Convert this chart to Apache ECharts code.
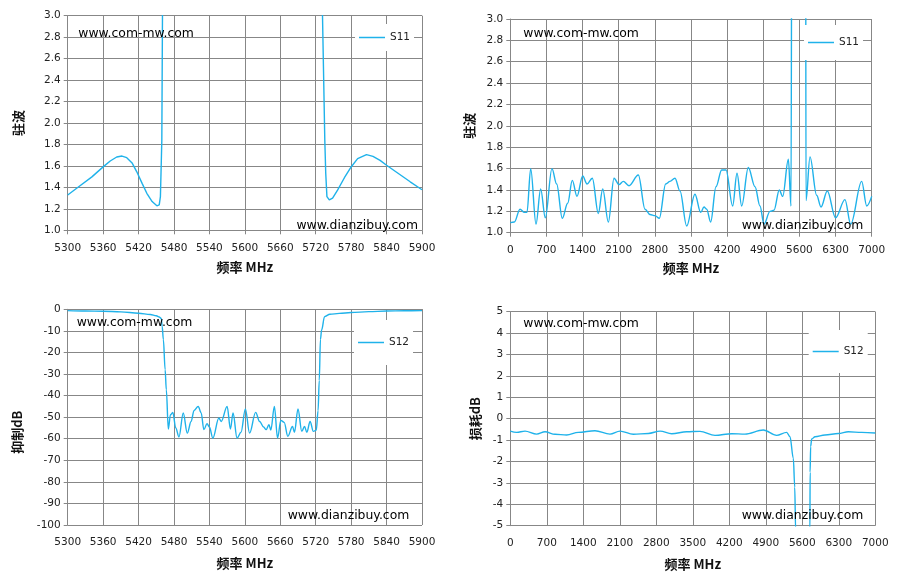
<!DOCTYPE html>
<html>
<head>
<meta charset="utf-8">
<script src="https://cdn.jsdelivr.net/npm/echarts@6/dist/echarts.min.js"></script>
<style>
html, body { margin: 0; padding: 0; background: #fff; }
#chart { width: 899px; height: 580px; }
</style>
</head>
<body>
<div id="chart"></div>
<script>
// S11 驻波 5300-5900 MHz
var f1 = [5300, 5318.6, 5341, 5360, 5372, 5383, 5392, 5400, 5409, 5417, 5426, 5434, 5443, 5451, 5455, 5457, 5458, 5459.4, 5460.5, 5462, 5600, 5729, 5731.5, 5735.4, 5737, 5739, 5743, 5748.6, 5757, 5768.6, 5780, 5791, 5806, 5817, 5829, 5840, 5860, 5880, 5900];
var v1 = [1.329, 1.406, 1.498, 1.591, 1.646, 1.683, 1.692, 1.677, 1.628, 1.545, 1.437, 1.345, 1.268, 1.228, 1.237, 1.314, 1.53, 1.84, 3.0, 8, 8, 8, 3.0, 1.84, 1.53, 1.314, 1.283, 1.30, 1.375, 1.49, 1.59, 1.668, 1.705, 1.689, 1.652, 1.606, 1.529, 1.452, 1.378];

// S11 驻波 0-7000 MHz
var f2 = [0, 78, 188, 272, 323, 395, 498, 588, 678, 807, 898, 1007, 1111, 1201, 1292, 1402, 1486, 1589, 1705, 1790, 1899, 2009, 2105, 2189, 2299, 2480, 2610, 2706, 2803, 2886, 3010, 3093, 3190, 3287, 3416, 3577, 3688, 3752, 3804, 3881, 3984, 4094, 4178, 4307, 4391, 4482, 4610, 4740, 4836, 4914, 5030, 5107, 5210, 5276, 5386, 5437, 5456, 5470, 5700, 5720, 5727, 5805, 5934, 6018, 6140, 6300, 6482, 6593, 6806, 6903, 7000];
var v2 = [1.094, 1.10, 1.22, 1.19, 1.19, 1.60, 1.08, 1.41, 1.14, 1.60, 1.456, 1.135, 1.275, 1.49, 1.34, 1.53, 1.456, 1.51, 1.18, 1.41, 1.10, 1.51, 1.45, 1.48, 1.44, 1.54, 1.22, 1.17, 1.16, 1.135, 1.456, 1.48, 1.51, 1.39, 1.063, 1.36, 1.19, 1.24, 1.22, 1.10, 1.43, 1.587, 1.587, 1.25, 1.556, 1.25, 1.61, 1.43, 1.25, 1.08, 1.20, 1.21, 1.40, 1.34, 1.687, 1.25, 5, 8, 8, 5, 1.30, 1.71, 1.35, 1.24, 1.39, 1.14, 1.31, 1.08, 1.48, 1.25, 1.34];

// S12 抑制 5300-5900 MHz
var f3 = [5300, 5330, 5360, 5390, 5420, 5440, 5450, 5455, 5458.5, 5460, 5462, 5465, 5467, 5470.4, 5474, 5478, 5483, 5488.4, 5495.7, 5502.5, 5509, 5514, 5521, 5526, 5530.6, 5536, 5540, 5545.8, 5556, 5560, 5570, 5575.6, 5580, 5586.8, 5593.5, 5600.9, 5608, 5618.3, 5625, 5631.8, 5636, 5640.8, 5644, 5650, 5655.4, 5661, 5666.6, 5672.8, 5680.7, 5684, 5690, 5696.4, 5701, 5705, 5710.5, 5716, 5721, 5724, 5726, 5728, 5730, 5735, 5744, 5760, 5780, 5810, 5840, 5870, 5900];
var v3 = [-0.6, -0.8, -0.9, -1.2, -1.8, -2.4, -3, -3.6, -4.2, -8, -14, -28, -37.3, -55.5, -48.9, -47.8, -55, -59.2, -48.1, -57.4, -52, -46.9, -45, -48, -55.8, -53, -54.6, -59.7, -50.4, -52, -45, -55.5, -48.1, -59.7, -57, -46.2, -57.4, -47.8, -52, -54.6, -55.8, -53.5, -56, -45, -59.7, -51.5, -52.4, -58.9, -54.3, -57, -46.2, -56.6, -54.3, -57, -52, -56.6, -56, -47, -33, -14, -9.6, -3.4, -2.3, -1.9, -1.5, -1.1, -0.8, -0.7, -0.6];

// S12 损耗 0-7000 MHz
var f4 = [0, 122, 282, 506, 666, 858, 1081, 1305, 1624, 1912, 2104, 2360, 2648, 2872, 3096, 3383, 3638, 3926, 4246, 4500, 4852, 5108, 5300, 5364, 5428, 5455, 5472, 5490, 5730, 5746, 5750, 5760, 5780, 5844, 6035, 6291, 6483, 6739, 7000];
var v4 = [-0.58, -0.64, -0.58, -0.72, -0.61, -0.73, -0.76, -0.64, -0.56, -0.72, -0.58, -0.73, -0.69, -0.58, -0.70, -0.61, -0.59, -0.78, -0.70, -0.72, -0.53, -0.78, -0.64, -0.84, -1.85, -3.2, -5.2, -20, -20, -5.2, -2.5, -1.3, -0.95, -0.84, -0.76, -0.69, -0.61, -0.64, -0.67];

var xTicksNarrow = [5300, 5900, 60];
var xTicksWide = [0, 7000, 700];

var gridColor = '#878787';
var lineColor = '#1fb2ea';
var tickFont = { fontFamily: 'DejaVu Sans', fontSize: 10.5, color: '#222' };
var nameFont = { fontFamily: 'Noto Sans CJK SC', fontSize: 13, fontWeight: 'bold', color: '#111' };

function zip(f, v) {
	var out = [];
	for (var i = 0; i < f.length; i++) out.push([f[i], v[i]]);
	return out;
}

var fmt1 = function (v) { return v.toFixed(1); };
var fmt0 = function (v) { return String(v); };

function xAxisFor(idx, ticks, gap) {
	return {
		gridIndex: idx, type: 'value', min: ticks[0], max: ticks[1], interval: ticks[2],
		name: '频率 MHz', nameLocation: 'middle', nameGap: gap, nameTextStyle: nameFont,
		axisLine: { lineStyle: { color: gridColor } },
		axisTick: { show: true, length: 4, lineStyle: { color: gridColor } },
		splitLine: { show: true, lineStyle: { color: gridColor, width: 1 } },
		axisLabel: Object.assign({ margin: 12, formatter: fmt0 }, tickFont)
	};
}

function yAxisFor(idx, min, max, step, name, gap, fmt, pad) {
	return {
		gridIndex: idx, type: 'value', min: min, max: max, interval: step,
		name: name, nameLocation: 'middle', nameRotate: 90, nameGap: gap,
		nameTextStyle: Object.assign({ padding: pad || 0 }, nameFont),
		axisLine: { show: true, lineStyle: { color: gridColor } },
		axisTick: { show: true, length: 4, lineStyle: { color: gridColor } },
		splitLine: { show: true, lineStyle: { color: gridColor, width: 1 } },
		axisLabel: Object.assign({ margin: 7, formatter: fmt }, tickFont)
	};
}

function lineSeries(name, idx, data, smooth) {
	return {
		name: name, type: 'line', xAxisIndex: idx, yAxisIndex: idx,
		data: data, symbol: 'none', smooth: smooth, smoothMonotone: 'x',
		lineStyle: { color: lineColor, width: 1.4 }, itemStyle: { color: lineColor }
	};
}

function legendAt(left, top, name, pad) {
	return {
		left: left, top: top, data: [name], backgroundColor: '#fff',
		icon: 'rect', padding: [pad, 4, pad, 4], itemWidth: 26, itemHeight: 1.5,
		itemStyle: { color: lineColor },
		textStyle: { fontFamily: 'DejaVu Sans', fontSize: 10.5, color: '#222' }
	};
}

function mark(x, y, text, align) {
	return {
		type: 'text', x: x, y: y, z: 100,
		style: { text: text, fill: '#000', font: '12.4px "DejaVu Sans"', textAlign: align, textVerticalAlign: 'middle' }
	};
}

var chart = echarts.init(document.getElementById('chart'));
chart.setOption({
	animation: false,
	grid: [
		{ left: 67.7, top: 15.7, width: 354.3, height: 214.6 },
		{ left: 510.3, top: 19, width: 361.4, height: 213.7 },
		{ left: 67.7, top: 309.3, width: 354.3, height: 215.7 },
		{ left: 510.3, top: 311.7, width: 365, height: 214 }
	],
	xAxis: [
		xAxisFor(0, xTicksNarrow, 30),
		xAxisFor(1, xTicksWide, 29),
		xAxisFor(2, xTicksNarrow, 31.5),
		xAxisFor(3, xTicksWide, 32)
	],
	yAxis: [
		yAxisFor(0, 1, 3, 0.2, '驻波', 43, fmt1),
		yAxisFor(1, 1, 3, 0.2, '驻波', 35, fmt1),
		yAxisFor(2, -100, 0, 10, '抑制dB', 44, fmt0, [0, 30, 0, 0]),
		yAxisFor(3, -5, 5, 1, '损耗dB', 29, fmt0)
	],
	legend: [
		legendAt(355, 24, 'S11', 8),
		legendAt(804, 25, 'S11', 12),
		legendAt(354, 320, 'S12', 17),
		legendAt(808.7, 330, 'S12', 16)
	],
	series: [
		lineSeries('S11', 0, zip(f1, v1), false),
		lineSeries('S11', 1, zip(f2, v2), 0.35),
		lineSeries('S12', 2, zip(f3, v3), 0.35),
		lineSeries('S12', 3, zip(f4, v4), 0.35)
	],
	graphic: [
		mark(78.3, 33.3, 'www.com-mw.com', 'left'),
		mark(418, 225.7, 'www.dianzibuy.com', 'right'),
		mark(523.3, 33.3, 'www.com-mw.com', 'left'),
		mark(863.3, 225.7, 'www.dianzibuy.com', 'right'),
		mark(76.7, 322.3, 'www.com-mw.com', 'left'),
		mark(409.3, 515.7, 'www.dianzibuy.com', 'right'),
		mark(523.3, 323.3, 'www.com-mw.com', 'left'),
		mark(863.3, 515.7, 'www.dianzibuy.com', 'right')
	]
});
</script>
</body>
</html>
